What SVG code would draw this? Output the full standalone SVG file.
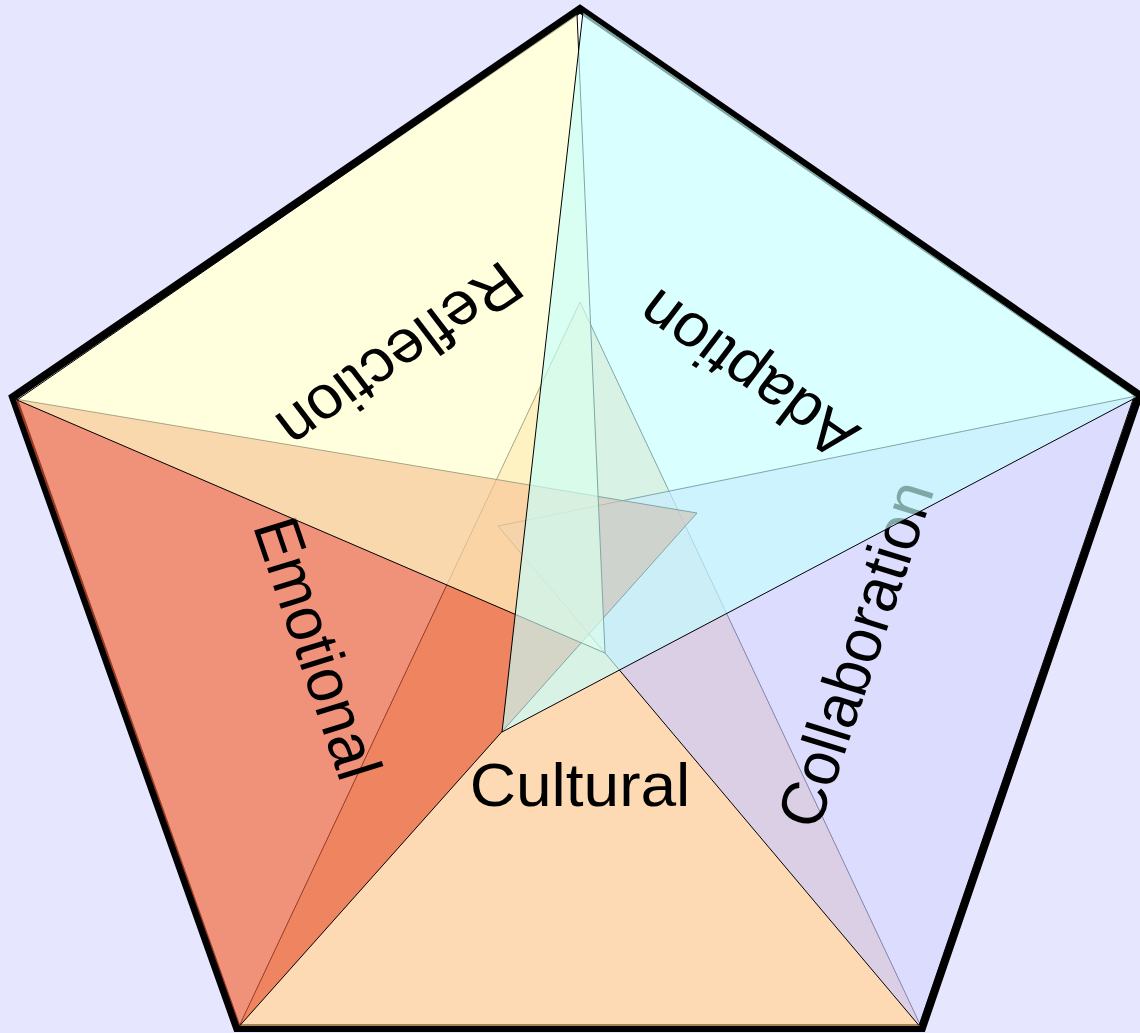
<svg xmlns="http://www.w3.org/2000/svg" width="1140" height="1033" viewBox="0 0 1140 1033">
  <style>
    .tri { stroke: #000; stroke-width: 1; stroke-linejoin: miter; fill-opacity: 0.65; }
    .label { font-family: "Liberation Sans", Arial, Helvetica, sans-serif; font-size: 61px; fill: #000; text-anchor: middle; dominant-baseline: central; }
  </style>
  <rect width="1140" height="1033" fill="#e6e6ff"/>
  <!-- pentagon frame: white face, heavy outline -->
  <polygon id="frame" points="580,9 1139,395 922,1028 237,1028 13,397" fill="#ffffff" stroke="#000" stroke-width="8" stroke-linejoin="miter"/>
  <!-- one translucent triangle per side, label near its centroid, parallel to its side -->
  <g id="cultural">
    <polygon class="tri" points="239,1026.5 921,1026.5 580,302" fill="#fcc68c"/>
    <text class="label" transform="translate(580,785) scale(1.05,1)">Cultural</text>
  </g>
  <g id="collaboration">
    <polygon class="tri" points="919,1025.5 1134,396.5 498,526" fill="#c9c9ff"/>
    <text class="label" transform="translate(855,654) scale(1.05,1) rotate(-72)">Collaboration</text>
  </g>
  <g id="emotional">
    <polygon class="tri" points="15,399 239,1026.5 697,513" fill="#e85632"/>
    <text class="label" transform="translate(318,648) scale(1.05,1) rotate(72)">Emotional</text>
  </g>
  <g id="reflection">
    <polygon class="tri" points="577,14 17,400 605,653" fill="#ffffcb"/>
    <text class="label" transform="translate(400,356) scale(1.05,1) rotate(144)">Reflection</text>
  </g>
  <g id="adaption">
    <polygon class="tri" points="583,12 1137,397 502,732" fill="#c5ffff"/>
    <text class="label" transform="translate(747,375) scale(1.05,1) rotate(-144)">Adaption</text>
  </g>
</svg>
